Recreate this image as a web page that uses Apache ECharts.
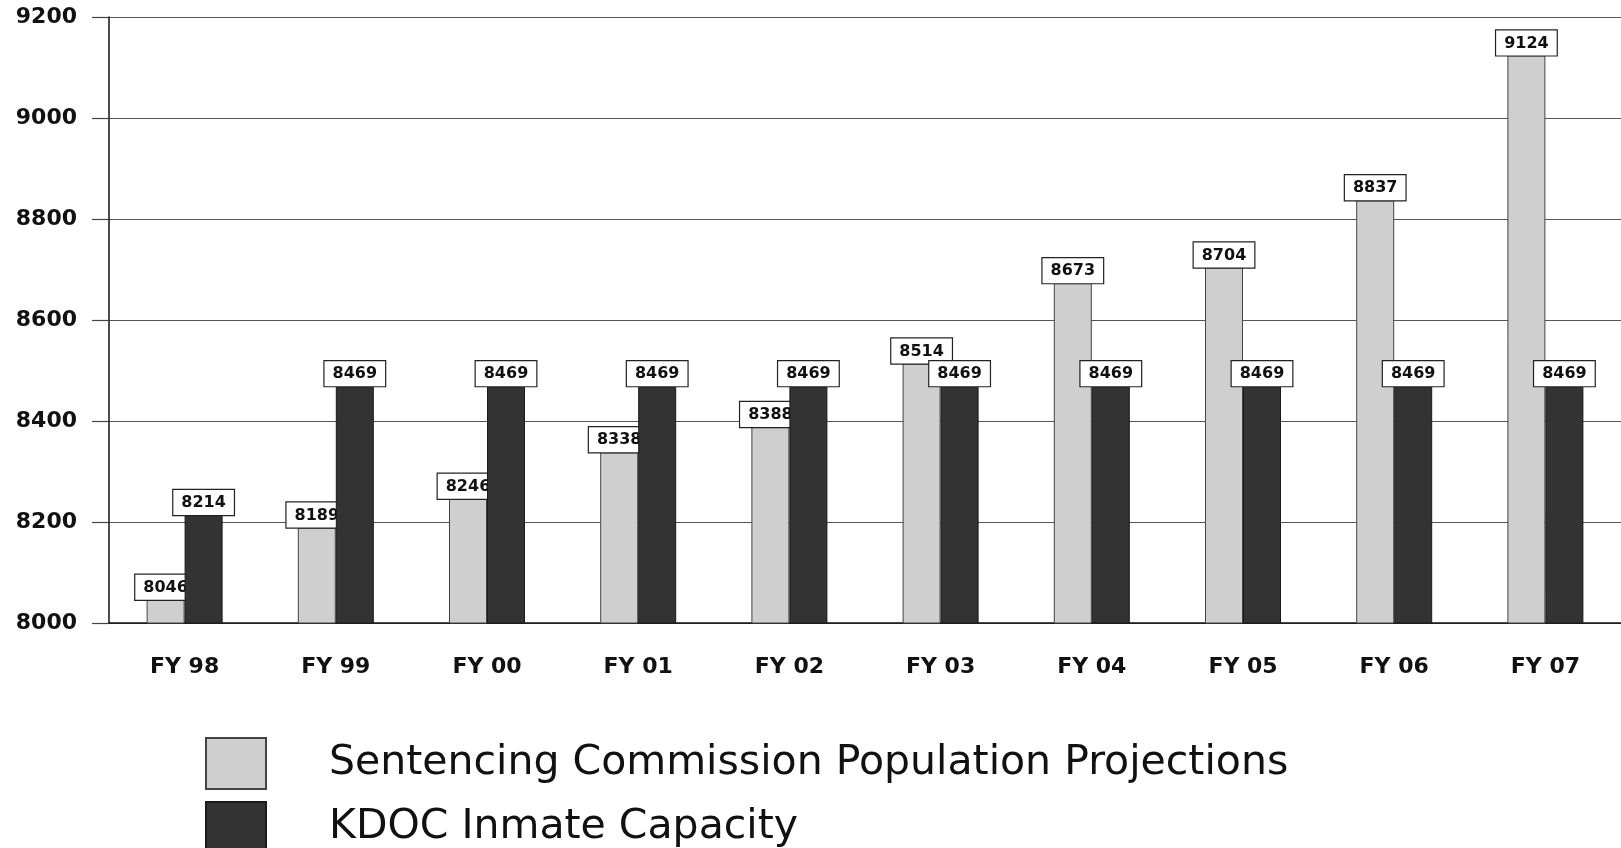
<!DOCTYPE html>
<html>
<head>
    <meta charset="utf-8">
    <title>ECharts</title>
    <script src="https://cdn.jsdelivr.net/npm/echarts@6/dist/echarts.min.js"></script>
    <style>
        html, body { margin: 0; padding: 0; background: #fff; }
    </style>
</head>
<body>
<div id="main" style="width: 1621px;height:848px"></div>
<script type="text/javascript">
    // data
    var years = ['FY 98', 'FY 99', 'FY 00', 'FY 01', 'FY 02', 'FY 03', 'FY 04', 'FY 05', 'FY 06', 'FY 07'];
    var projections = [8046, 8189, 8246, 8338, 8388, 8514, 8673, 8704, 8837, 9124];
    var capacity = [8214, 8469, 8469, 8469, 8469, 8469, 8469, 8469, 8469, 8469];
    var seriesNames = ['Sentencing Commission Population Projections', 'KDOC Inmate Capacity'];

    var myChart = echarts.init(document.getElementById('main'));

    var labelStyle = {
        show: true,
        position: 'top',
        distance: 0,
        color: '#111',
        fontFamily: 'DejaVu Sans',
        fontWeight: 'bold',
        fontSize: 16,
        backgroundColor: '#fff',
        borderColor: '#222',
        borderWidth: 1.2,
        padding: [5, 8, 4, 8]
    };

    // one legend per row, stacked like the original
    function legendRow(name, top) {
        return {
            left: 200,
            top: top,
            itemWidth: 60,
            itemHeight: 51,
            icon: 'rect',
            textStyle: {
                fontFamily: 'DejaVu Sans',
                fontSize: 41,
                color: '#111',
                padding: [0, 0, 0, 58]
            },
            data: [name]
        };
    }

    var option = {
        animation: false,
        backgroundColor: '#fff',
        grid: {
            left: 109,
            top: 17,
            width: 1520,
            height: 606
        },
        legend: [
            legendRow(seriesNames[0], 732),
            legendRow(seriesNames[1], 796)
        ],
        xAxis: {
            type: 'category',
            data: years,
            axisLine: { lineStyle: { color: '#111', width: 1.5 } },
            axisTick: { alignWithLabel: true, length: 14, lineStyle: { color: '#222', width: 1.2 } },
            axisLabel: {
                margin: 33,
                fontFamily: 'DejaVu Sans',
                fontWeight: 'bold',
                fontSize: 22,
                color: '#111'
            }
        },
        yAxis: {
            type: 'value',
            min: 8000,
            max: 9200,
            interval: 200,
            axisLine: { show: true, lineStyle: { color: '#111', width: 1.5 } },
            axisTick: { show: true, length: 17, lineStyle: { color: '#444', width: 1.2 } },
            axisLabel: {
                margin: 32,
                fontFamily: 'DejaVu Sans',
                fontWeight: 'bold',
                fontSize: 22,
                color: '#111',
                formatter: function (v) { return String(v); }
            },
            splitLine: { lineStyle: { color: '#555', width: 1.2 } }
        },
        series: [
            {
                name: seriesNames[0],
                type: 'bar',
                z: 2,
                barWidth: 38,
                barGap: '0%',
                data: projections,
                itemStyle: { color: '#cfcfcf', borderColor: '#444', borderWidth: 1 },
                label: labelStyle
            },
            {
                name: seriesNames[1],
                type: 'bar',
                z: 3,
                barWidth: 38,
                barGap: '0%',
                data: capacity,
                itemStyle: { color: '#333', borderColor: '#1a1a1a', borderWidth: 1 },
                label: labelStyle
            }
        ]
    };

    myChart.setOption(option);
</script>
</body>
</html>
